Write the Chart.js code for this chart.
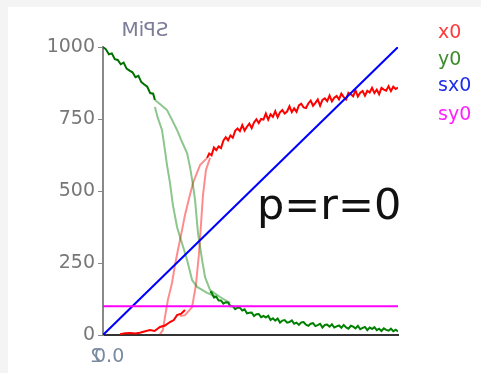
<!DOCTYPE html>
<html>
<head>
<meta charset="utf-8">
<script src="https://cdn.jsdelivr.net/npm/chart.js@4.4.0/dist/chart.umd.min.js"></script>
<style>
  html, body { margin: 0; padding: 0; background: #f4f4f4; }
  #wrap { position: absolute; left: 8px; top: 7px; width: 473px; height: 366px; background: #fff; }
</style>
</head>
<body>
<div id="wrap"><canvas id="c" width="473" height="366"></canvas></div>
<script>
// values (x and y in axis units, 0..1000)
const greenTopX = [0, 10, 20, 30, 40, 50, 60, 70, 80, 90, 100, 110, 120, 130, 140, 150, 160, 170, 176];
const greenTopY = [1000, 992, 975, 978, 958, 955, 940, 946, 925, 918, 912, 895, 900, 878, 870, 862, 840, 838, 816];

const greenLeftX = [176, 186, 200, 210, 217, 227, 237, 251, 261, 275, 285, 302, 319, 353, 386];
const greenLeftY = [792, 753, 712, 642, 590, 528, 451, 375, 340, 295, 260, 191, 167, 146, 132];

const greenRightX = [176, 193, 217, 234, 251, 268, 285, 295, 305, 312, 322, 336, 346, 363, 397, 431];
const greenRightY = [816, 802, 781, 747, 712, 670, 632, 583, 521, 469, 354, 260, 201, 156, 132, 111];

const greenTailX = [363, 368, 376, 384, 392, 400, 408, 416, 424, 432, 440, 448, 456, 464, 472, 480, 488, 496, 504, 512, 520, 528, 536, 544, 552, 560, 568, 576, 584, 592, 600, 608, 616, 624, 632, 640, 648, 656, 664, 672, 680, 688, 696, 704, 712, 720, 728, 736, 744, 752, 760, 768, 776, 784, 792, 800, 808, 816, 824, 832, 840, 848, 856, 864, 872, 880, 888, 896, 904, 912, 920, 928, 936, 944, 952, 960, 968, 976, 984, 992, 1000];
const greenTailY = [150, 148, 130, 133, 120, 120, 109, 114, 113, 100, 100, 90, 95, 95, 85, 89, 75, 77, 78, 66, 72, 73, 62, 66, 61, 67, 52, 58, 50, 57, 43, 50, 52, 43, 45, 51, 39, 43, 35, 44, 45, 36, 32, 39, 41, 31, 34, 39, 26, 35, 36, 29, 37, 26, 30, 33, 25, 35, 26, 22, 32, 29, 23, 32, 20, 25, 28, 17, 26, 21, 27, 17, 22, 14, 23, 18, 15, 22, 13, 18, 12];

const redBottomX = [58, 75, 92, 110, 125, 140, 159, 175, 193, 210, 227, 240, 251, 265, 278];
const redBottomY = [3, 6, 7, 5, 8, 12, 17, 14, 28, 33, 45, 52, 69, 74, 87];

const redLeftX = [193, 203, 210, 220, 234, 244, 254, 268, 278, 292, 305, 329, 353];
const redLeftY = [3, 17, 62, 122, 181, 243, 295, 365, 417, 476, 528, 590, 615];

const redRightX = [261, 278, 302, 315, 325, 332, 339, 349, 363];
const redRightY = [66, 69, 97, 174, 278, 382, 486, 573, 615];

const redTopX = [353, 360, 368, 376, 384, 392, 400, 408, 416, 424, 432, 440, 448, 456, 464, 472, 480, 488, 496, 504, 512, 520, 528, 536, 544, 552, 560, 568, 576, 584, 592, 600, 608, 616, 624, 632, 640, 648, 656, 664, 672, 680, 688, 696, 704, 712, 720, 728, 736, 744, 752, 760, 768, 776, 784, 792, 800, 808, 816, 824, 832, 840, 848, 856, 864, 872, 880, 888, 896, 904, 912, 920, 928, 936, 944, 952, 960, 968, 976, 984, 992, 1000];
const redTopY = [615, 630, 624, 651, 642, 655, 649, 675, 687, 676, 693, 685, 709, 717, 708, 729, 710, 723, 734, 718, 738, 749, 736, 750, 748, 769, 748, 766, 757, 777, 756, 773, 781, 769, 776, 794, 774, 787, 775, 797, 803, 790, 788, 804, 814, 796, 806, 818, 796, 816, 822, 812, 831, 811, 824, 830, 818, 838, 826, 818, 841, 836, 829, 850, 828, 841, 847, 831, 848, 842, 858, 840, 852, 836, 858, 852, 848, 864, 847, 862, 854, 859];

const sxX = [0, 1000];
const sxY = [0, 1000];
const syX = [0, 1000];
const syY = [100, 100];

const legendNames = ['x0', 'y0', 'sx0', 'sy0'];
const legendColors = ['#ff3b3b', '#3c8c2c', '#1f2fe6', '#ff22ff'];

const pts = (xs, ys) => xs.map((x, i) => ({ x, y: ys[i] }));

const line = (xs, ys, color, width) => ({
  data: pts(xs, ys),
  borderColor: color,
  borderWidth: width,
  pointRadius: 0,
  tension: 0,
  fill: false,
});

const extras = {
  id: 'extras',
  afterDraw: (chart) => {
    const ctx = chart.ctx;
    ctx.save();
    // mirrored title
    ctx.font = '20px "DejaVu Sans"';
    ctx.fillStyle = '#7c7c98';
    ctx.textAlign = 'center';
    ctx.textBaseline = 'middle';
    ctx.save();
    ctx.translate(137, 24);
    ctx.scale(-1, 1);
    ctx.fillText('SPiM', 0, 0);
    ctx.restore();

    // x tick label (overlapped)
    ctx.font = '19px "DejaVu Sans"';
    ctx.fillStyle = '#7a8aa0';
    ctx.textAlign = 'left';
    ctx.fillText('0.0', 86, 350);
    ctx.save();
    ctx.translate(88, 350);
    ctx.scale(-1, 1);
    ctx.textAlign = 'center';
    ctx.fillText('2', 0, 0);
    ctx.restore();

    // legend
    ctx.font = '19px "DejaVu Sans"';
    ctx.textAlign = 'left';
    const ys = [26, 53, 79, 108];
    legendNames.forEach((n, i) => {
      ctx.fillStyle = legendColors[i];
      ctx.fillText(n, 430, ys[i]);
    });

    // annotation
    ctx.font = '43px "DejaVu Sans"';
    ctx.fillStyle = '#111';
    ctx.textBaseline = 'alphabetic';
    ctx.fillText('p=r=0', 249, 212);
    ctx.restore();
  },
};

const lightRed = 'rgba(255,0,0,0.45)';
const lightGreen = 'rgba(0,128,0,0.45)';

new Chart(document.getElementById('c'), {
  type: 'line',
  plugins: [extras],
  data: {
    datasets: [
      line(syX, syY, '#ff00ff', 2),
      line(sxX, sxY, '#0000ff', 2),
      line(greenLeftX, greenLeftY, lightGreen, 2),
      line(greenRightX, greenRightY, lightGreen, 2),
      line(redLeftX, redLeftY, lightRed, 2),
      line(redRightX, redRightY, lightRed, 2),
      line(greenTopX, greenTopY, '#007000', 2),
      line(greenTailX, greenTailY, '#008000', 2),
      line(redBottomX, redBottomY, '#ff0000', 2),
      line(redTopX, redTopY, '#ff0000', 2),
    ],
  },
  options: {
    responsive: false,
    animation: false,
    layout: { padding: { top: 40, right: 83, bottom: 0, left: 0 } },
    plugins: { legend: { display: false }, tooltip: { enabled: false } },
    scales: {
      x: {
        type: 'linear',
        min: 0,
        max: 1000,
        ticks: { display: false },
        grid: { display: false },
        border: { color: '#333', width: 2 },
        afterFit: (s) => { s.height = 38; },
      },
      y: {
        min: 0,
        max: 1000,
        ticks: {
          stepSize: 250,
          color: '#777',
          padding: 3,
          font: { family: 'DejaVu Sans', size: 19 },
          callback: (v) => String(v),
        },
        grid: { drawOnChartArea: false, tickLength: 5, color: '#888' },
        border: { color: '#888', width: 2 },
        afterFit: (s) => { s.width = 95; },
      },
    },
  },
});
</script>
</body>
</html>
